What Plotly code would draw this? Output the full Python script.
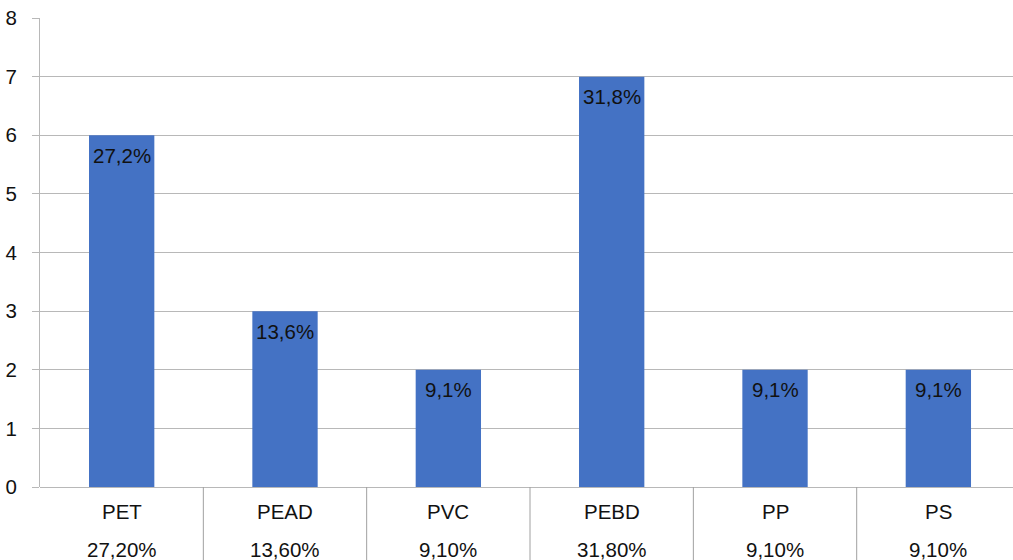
import plotly.graph_objects as go

# Plastic type counts and their share of the total
categories = ["PET", "PEAD", "PVC", "PEBD", "PP", "PS"]
counts = [6, 3, 2, 7, 2, 2]
bar_labels = ["27,2%", "13,6%", "9,1%", "31,8%", "9,1%", "9,1%"]
share_labels = ["27,20%", "13,60%", "9,10%", "31,80%", "9,10%", "9,10%"]
y_ticks = [0, 1, 2, 3, 4, 5, 6, 7, 8]

W, H = 1013, 560
M_L, M_R, M_T, M_B = 40, 0, 18, 73
plot_h = H - M_T - M_B

FONT = "Liberation Sans, Arial, sans-serif"
GRID = "#b8b8b8"
TXT = "#111111"

xs = list(range(len(categories)))

fig = go.Figure(
    go.Bar(
        x=xs,
        y=counts,
        width=0.4,
        marker=dict(color="#4472C4", line=dict(width=0)),
        hoverinfo="skip",
    )
)

# Percentage labels just inside the top of each bar
for x, c, lab in zip(xs, counts, bar_labels):
    fig.add_annotation(
        x=x, y=c, xref="x", yref="y", text=lab,
        showarrow=False, font=dict(family=FONT, size=20.5, color=TXT),
        xanchor="center", yanchor="middle", yshift=-20,
    )

# Two-row category table under the axis
for i, (name, share) in enumerate(zip(categories, share_labels)):
    fig.add_annotation(
        x=i, y=-25 / plot_h, xref="x", yref="paper", text=name,
        showarrow=False, font=dict(family=FONT, size=20.5, color=TXT),
        xanchor="center", yanchor="middle",
    )
    fig.add_annotation(
        x=i, y=-62 / plot_h, xref="x", yref="paper", text=share,
        showarrow=False, font=dict(family=FONT, size=20.5, color=TXT),
        xanchor="center", yanchor="middle",
    )

# Vertical separators between categories in the table
for b in range(1, len(categories) + 1):
    fig.add_shape(
        type="line", xref="x", yref="paper",
        x0=b - 0.5, x1=b - 0.5, y0=0, y1=-M_B / plot_h,
        line=dict(color="#a0a0a0", width=1),
    )

fig.update_layout(
    width=W, height=H,
    margin=dict(l=M_L, r=M_R, t=M_T, b=M_B, pad=0),
    paper_bgcolor="white", plot_bgcolor="white",
    showlegend=False,
    bargap=0.6,
    xaxis=dict(
        range=[-0.5, 5.457],
        showticklabels=False, showgrid=False, zeroline=False,
        showline=False, ticks="", fixedrange=True,
    ),
    yaxis=dict(
        range=[0, 8],
        tickvals=y_ticks,
        tickfont=dict(family=FONT, size=20.5, color=TXT),
        showgrid=True, gridcolor=GRID, gridwidth=1,
        zeroline=True, zerolinecolor=GRID, zerolinewidth=1,
        showline=True, linecolor=GRID, linewidth=1,
        ticks="outside", ticklen=7, tickcolor=GRID,
        ticklabelstandoff=11,
        fixedrange=True,
    ),
)

fig.write_html("out.html", config={"displayModeBar": False})
